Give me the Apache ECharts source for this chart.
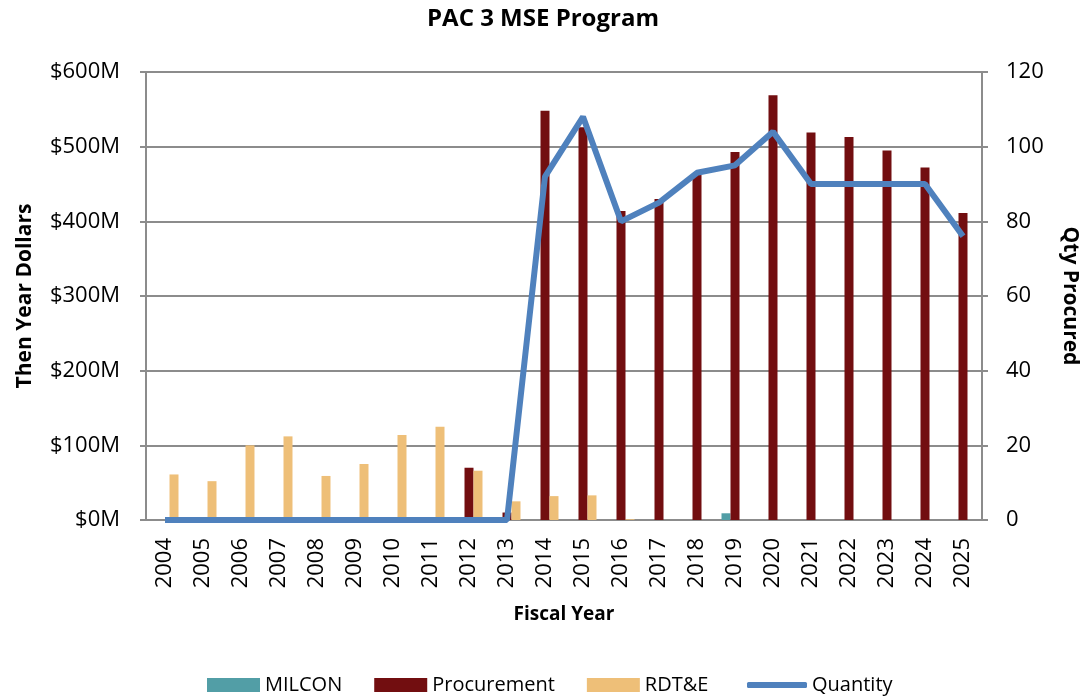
<!DOCTYPE html>
<html>
<head>
<meta charset="utf-8">
<title>PAC 3 MSE Program</title>
<script src="https://cdn.jsdelivr.net/npm/echarts@6/dist/echarts.min.js"></script>
<style>
  html, body { margin: 0; padding: 0; background: #fff; }
  #chart { width: 1086px; height: 697px; }
</style>
</head>
<body>
<div id="chart"></div>
<script>
// fiscal years
var years = ['2004', '2005', '2006', '2007', '2008', '2009', '2010', '2011', '2012', '2013', '2014',
  '2015', '2016', '2017', '2018', '2019', '2020', '2021', '2022', '2023', '2024', '2025'];
// then year dollars, $M
var milcon = [0, 0, 0, 0, 0, 0, 0, 0, 0, 0, 0, 0, 0, 0, 0, 9, 0, 0, 0, 0, 0, 0];
var procurement = [0, 0, 0, 0, 0, 0, 0, 0, 70, 10, 548, 526, 414, 430, 462, 493, 569, 519, 513, 495, 472, 411];
var rdte = [61, 52, 100, 112, 59, 75, 114, 125, 66, 25, 32, 33, 1, 0, 0, 0, 0, 0, 0, 0, 0, 0];
// missiles procured
var quantity = [0, 0, 0, 0, 0, 0, 0, 0, 0, 0, 92, 108, 80, 85, 93, 95, 104, 90, 90, 90, 90, 76];

var font = '"Open Sans", "Liberation Sans", sans-serif';
var gridGrey = '#8c8c8c';

var chart = echarts.init(document.getElementById('chart'));
var option = {
    backgroundColor: '#fff',
    animation: false,
    title: {
        text: 'PAC 3 MSE Program',
        left: 'center',
        top: 2,
        textStyle: { fontFamily: font, fontSize: 24, fontWeight: 'bold', color: '#000' }
    },
    legend: [
        {
            left: 207,
            top: 675,
            padding: 0,
            itemWidth: 53,
            itemHeight: 14,
            itemGap: 32,
            textStyle: { fontFamily: font, fontSize: 20, color: '#000' },
            data: [
                { name: 'MILCON', icon: 'rect' },
                { name: 'Procurement', icon: 'rect' },
                { name: 'RDT&E', icon: 'rect' }
            ]
        },
        {
            left: 747,
            top: 675,
            padding: 0,
            itemWidth: 60,
            itemHeight: 6,
            itemGap: 2,
            textStyle: { fontFamily: font, fontSize: 20, color: '#000' },
            data: [{ name: 'Quantity', icon: 'roundRect' }]
        }
    ],
    grid: { left: 146, right: 104, top: 72, bottom: 177, outerBoundsMode: 'none' },
    xAxis: {
        type: 'category',
        data: years,
        name: 'Fiscal Year',
        nameLocation: 'middle',
        nameGap: 85,
        nameMoveOverlap: false,
        nameTextStyle: { fontFamily: font, fontSize: 19, fontWeight: 'bold', color: '#000' },
        axisLine: { lineStyle: { color: gridGrey, width: 2 } },
        axisTick: { length: 6, lineStyle: { color: gridGrey, width: 2 } },
        axisLabel: { rotate: 90, fontFamily: font, fontSize: 22, color: '#000', margin: 18 }
    },
    yAxis: [
        {
            type: 'value',
            min: 0,
            max: 600,
            interval: 100,
            name: 'Then Year Dollars',
            nameLocation: 'middle',
            nameGap: 110,
            nameRotate: 90,
            nameMoveOverlap: false,
            nameTextStyle: { fontFamily: font, fontSize: 21, fontWeight: 'bold', color: '#000' },
            axisLine: { show: true, lineStyle: { color: gridGrey, width: 2 } },
            axisTick: { show: true, inside: false, length: 6, lineStyle: { color: gridGrey, width: 2 } },
            splitLine: { lineStyle: { color: gridGrey, width: 2 } },
            axisLabel: {
                fontFamily: font, fontSize: 22, color: '#000', margin: 26,
                formatter: function (v) { return '$' + v + 'M'; }
            }
        },
        {
            type: 'value',
            min: 0,
            max: 120,
            interval: 20,
            position: 'right',
            name: 'Qty Procured',
            nameLocation: 'middle',
            nameGap: 77,
            nameRotate: -90,
            nameMoveOverlap: false,
            nameTextStyle: { fontFamily: font, fontSize: 21, fontWeight: 'bold', color: '#000' },
            axisLine: { show: true, lineStyle: { color: gridGrey, width: 2 } },
            axisTick: { show: true, inside: false, length: 6, lineStyle: { color: gridGrey, width: 2 } },
            splitLine: { show: false },
            axisLabel: { fontFamily: font, fontSize: 22, color: '#000', margin: 24 }
        }
    ],
    series: [
        {
            name: 'MILCON', type: 'bar', data: milcon, barWidth: 9, barGap: '0%',
            itemStyle: { color: '#529ea6' }
        },
        {
            name: 'Procurement', type: 'bar', data: procurement, barWidth: 9, barGap: '0%',
            itemStyle: { color: '#720e10' }
        },
        {
            name: 'RDT&E', type: 'bar', data: rdte, barWidth: 9, barGap: '0%',
            itemStyle: { color: '#eebf78' }
        },
        {
            name: 'Quantity', type: 'line', yAxisIndex: 1, data: quantity,
            symbol: 'none', z: 5,
            lineStyle: { color: '#4f81bd', width: 6 },
            itemStyle: { color: '#4f81bd' }
        }
    ]
};
chart.setOption(option);
</script>
</body>
</html>
